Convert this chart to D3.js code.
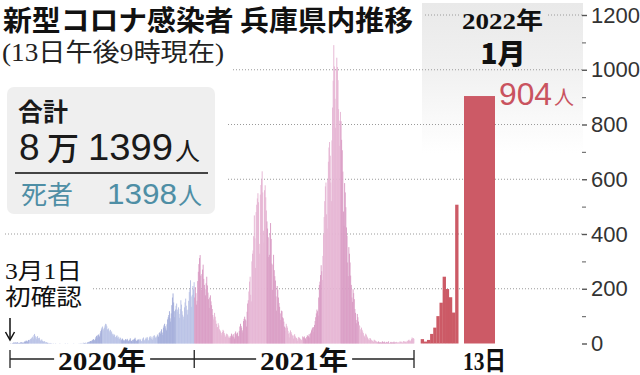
<!DOCTYPE html>
<html><head><meta charset="utf-8">
<script src="https://cdn.jsdelivr.net/npm/d3@7"></script>
<style>
html,body{margin:0;padding:0;background:#fff;}
svg{display:block;}
</style></head><body>
<svg id="chart" width="640" height="375"></svg>
<script>
// ---------- DATA ----------
// Daily new cases, Hyogo. 2020: March..December, one array per month
const cases2020 = [
  [1,0,0,2,1,3,4,2,4,3,2,5,4,2,1,2,3,4,5,2,3,4,2,6,8,7,11,9,6,10,13],
  [11,13,17,15,19,22,25,18,31,35,28,22,16,24,27,20,18,21,14,9,12,15,10,8,6,9,7,4,3,5],
  [2,3,1,0,1,2,0,1,0,0,1,0,0,0,1,0,0,0,0,0,0,1,0,0,0,0,0,0,0,0,1],
  [0,0,0,1,0,0,0,0,0,0,0,0,0,1,0,0,0,0,0,0,0,0,1,0,0,2,0,1,0,3],
  [1,2,1,3,0,2,4,3,6,5,8,9,7,10,12,14,16,13,11,18,24,28,22,30,33,29,25,37,45,51,58],
  [62,54,48,58,66,72,70,63,52,49,55,47,41,50,38,44,33,36,29,34,31,24,22,27,30,21,25,18,16,22,20],
  [12,15,18,14,11,9,13,16,10,14,17,12,8,10,14,19,11,9,7,13,15,12,17,21,14,10,9,12,16,13],
  [11,17,14,9,8,15,19,22,13,10,16,21,18,24,19,12,10,23,27,21,17,25,14,19,28,30,24,20,26,22,33],
  [29,24,38,41,36,45,52,40,31,58,66,72,63,55,48,70,88,96,104,118,92,80,110,140,168,183,150,118,96,124],
  [138,146,124,115,132,108,94,126,158,142,118,105,98,88,132,150,164,138,122,106,124,156,188,198,231,172,134,178,210,198,224]
];
// 2021: January..December
const cases2021 = [
  [168,206,184,142,156,228,262,290,312,323,248,196,254,270,288,236,214,198,176,220,244,212,186,162,130,168,176,154,140,126,104],
  [88,96,112,98,84,72,58,60,74,66,52,48,44,38,30,42,50,46,38,32,24,28,36,34,30,22,26,20],
  [22,28,36,30,26,34,24,18,38,44,36,30,40,28,26,46,62,72,64,58,48,40,82,90,98,88,84,62,116,146,158],
  [190,226,244,178,154,300,328,340,392,468,384,276,480,507,530,549,516,364,328,544,579,598,629,552,412,368,560,578,534,486],
  [446,420,388,316,324,402,440,382,292,196,288,324,268,246,230,172,120,210,196,168,148,134,110,86,120,118,96,92,80,62,46],
  [58,72,64,58,46,36,22,40,48,42,36,30,28,18,30,34,26,22,20,16,10,22,24,20,18,16,12,14,26,24],
  [22,26,20,18,12,24,30,28,26,34,22,36,40,48,54,58,60,42,68,82,96,110,124,118,102,168,214,226,250,286,264],
  [232,320,398,462,520,574,588,472,420,598,664,716,736,686,588,520,742,862,960,1090,1012,894,788,1002,1044,1010,962,856,722,814,846],
  [812,744,706,628,482,430,586,552,498,424,394,296,246,352,328,296,248,214,168,152,198,184,162,126,112,86,74,108,96,80],
  [68,64,52,40,58,50,44,38,30,26,20,36,32,26,22,18,14,12,20,18,14,12,10,8,6,14,12,10,8,7,5],
  [4,8,6,3,5,4,2,6,8,5,4,7,3,2,5,6,4,3,8,2,1,4,6,3,5,2,4,7,3,5],
  [2,6,4,3,5,2,4,8,6,5,7,3,4,9,6,8,5,7,4,10,8,12,14,9,11,7,16,22,18,20,17]
];
// January 2022 (days 1..13)
const jan2022Days  = [1,2,3,4,5,6,7,8,9,10,11,12,13];
const jan2022Cases = [16,7,13,35,58,100,149,244,199,169,113,507,904];

const yTicks      = [0,200,400,600,800,1000,1200];
const yMinorTicks = [100,300,500,700,900,1100];
const yearLabels  = ["2020年","2021年"];
const yearStarts  = ["2020-03-01","2021-01-01","2022-01-01"];

const titleText    = "新型コロナ感染者 兵庫県内推移";
const subtitleText = "(13日午後9時現在)";
const totalLabel   = "合計";
const totalMan     = "8";
const totalRest    = "1399";
const deathLabel   = "死者";
const deathValue   = "1398";
const firstNote    = ["3月1日","初確認"];
const panelYear    = "2022年";
const panelMonth   = "1月";
const lastLabel    = "904";
const lastDayLabel = "13日";

// ---------- SETUP ----------
const svg = d3.select("#chart");
const CJK = "'Noto Sans CJK JP', sans-serif";
const SERIF = "'Liberation Serif', 'Noto Sans CJK JP', serif";
const SANS = "'Liberation Sans', Arial, sans-serif";

const x = d3.scaleTime()
  .domain([new Date(2020,2,1), new Date(2022,0,1)])
  .range([10, 414]);
const y = d3.scaleLinear().domain([0,1200]).range([343.5, 15]);

const xJan = d3.scaleBand().domain(jan2022Days.slice(0,12)).range([420.7, 458.3]).padding(0);
const xJanLast = d3.scaleBand().domain([13]).range([464, 495]).padding(0);

// gradient for 2022 panel
const defs = svg.append("defs");
const grad = defs.append("linearGradient").attr("id","pg").attr("x1",0).attr("y1",0).attr("x2",0).attr("y2",1);
grad.append("stop").attr("offset","0%").attr("stop-color","#e9e9e9");
grad.append("stop").attr("offset","45%").attr("stop-color","#f1f1f1");
grad.append("stop").attr("offset","100%").attr("stop-color","#ffffff");
svg.append("rect").attr("x",422).attr("y",3).attr("width",161).attr("height",150).attr("fill","url(#pg)");

// gridlines (dotted), with spans that avoid text areas
const gridSpans = {
  1200: [[425,459],[548,582]],
  1000: [[233,582]],
  800:  [[228,582]],
  600:  [[228,582]],
  400:  [[5,582]],
  200:  [[93,582]]
};
yTicks.filter(t => t > 0).forEach(t => {
  gridSpans[t].forEach(([a,b]) => {
    svg.append("line")
      .attr("x1",a).attr("x2",b).attr("y1",y(t)).attr("y2",y(t))
      .attr("stroke","#9a9a9a").attr("stroke-width",1)
      .attr("stroke-dasharray","1,2");
  });
});

// daily bars
const daily = [];
cases2020.forEach((arr,mi) => arr.forEach((v,di) => daily.push({date:new Date(2020,2+mi,di+1), v, month:3+mi, year:2020})));
cases2021.forEach((arr,mi) => arr.forEach((v,di) => daily.push({date:new Date(2021,mi,di+1), v, month:1+mi, year:2021})));

function barColor(d){
  const odd = d.month % 2 === 1;
  if (d.year === 2020) return odd ? "#a4aedb" : "#bac3e6";
  return odd ? "#da9dc5" : "#e6b6d4";
}
svg.append("g").selectAll("rect").data(daily).join("rect")
  .attr("x", d => x(d.date))
  .attr("width", d => x(d3.timeDay.offset(d.date,1)) - x(d.date) + 0.35)
  .attr("y", d => y(d.v))
  .attr("height", d => y(0) - y(d.v))
  .attr("fill", barColor);

// January 2022 bars
const janData = jan2022Days.map((d,i) => ({day:d, v:jan2022Cases[i]}));
svg.append("g").selectAll("rect").data(janData).join("rect")
  .attr("x", d => d.day < 13 ? xJan(d.day) : xJanLast(d.day))
  .attr("width", d => d.day < 13 ? xJan.bandwidth() + 0.2 : xJanLast.bandwidth())
  .attr("y", d => y(d.v))
  .attr("height", d => y(0) - y(d.v))
  .attr("fill", "#cc5a66");

// right axis
const axis = d3.axisRight(y).tickValues(yTicks).tickSize(5).tickPadding(5).tickFormat(d3.format("d"));
const ag = svg.append("g").attr("transform","translate(582,0)").call(axis);
ag.select(".domain").remove();
ag.selectAll(".tick line").attr("stroke","#555").attr("stroke-width",1.4);
ag.selectAll(".tick text").attr("font-family",SANS).attr("font-size",22).attr("fill","#333").attr("x",9);
const ag2 = svg.append("g").attr("transform","translate(582,0)")
  .call(d3.axisRight(y).tickValues(yMinorTicks).tickSize(4).tickFormat(""));
ag2.select(".domain").remove();
ag2.selectAll(".tick line").attr("stroke","#777").attr("stroke-width",1.2);

// title & subtitle
svg.append("text").attr("x",3).attr("y",31).text(titleText)
  .attr("font-family",CJK).attr("font-weight",700).attr("font-size",28).attr("fill","#111")
  .attr("textLength",410).attr("lengthAdjust","spacingAndGlyphs");
svg.append("text").attr("x",2).attr("y",61).text(subtitleText)
  .attr("font-family",SERIF).attr("font-size",25).attr("fill","#222")
  .attr("textLength",222).attr("lengthAdjust","spacingAndGlyphs");

// summary box
svg.append("rect").attr("x",7).attr("y",87).attr("width",208).attr("height",127).attr("rx",7).attr("fill","#efefef");
svg.append("text").attr("x",18).attr("y",121).text(totalLabel)
  .attr("font-family",CJK).attr("font-weight",700).attr("font-size",25).attr("fill","#1a1a1a");
svg.append("text").attr("x",19).attr("y",160).text(totalMan)
  .attr("font-family",SANS).attr("font-size",37).attr("fill","#1a1a1a");
svg.append("text").attr("x",47).attr("y",160).text("万")
  .attr("font-family",CJK).attr("font-weight",500).attr("font-size",32).attr("fill","#1a1a1a");
svg.append("text").attr("x",88).attr("y",160).text(totalRest)
  .attr("font-family",SANS).attr("font-size",37).attr("fill","#1a1a1a")
  .attr("textLength",85).attr("lengthAdjust","spacingAndGlyphs");
svg.append("text").attr("x",175).attr("y",160).text("人")
  .attr("font-family",CJK).attr("font-size",25).attr("fill","#1a1a1a");
svg.append("line").attr("x1",15).attr("x2",208).attr("y1",173).attr("y2",173).attr("stroke","#444").attr("stroke-width",2);
svg.append("text").attr("x",21).attr("y",204).text(deathLabel)
  .attr("font-family",CJK).attr("font-size",26).attr("fill","#4e8ea5");
svg.append("text").attr("x",107).attr("y",204).text(deathValue)
  .attr("font-family",SANS).attr("font-size",30).attr("fill","#4e8ea5")
  .attr("textLength",70).attr("lengthAdjust","spacingAndGlyphs");
svg.append("text").attr("x",178).attr("y",204).text("人")
  .attr("font-family",CJK).attr("font-size",24).attr("fill","#4e8ea5");

// first-case note
firstNote.forEach((t,i) => {
  svg.append("text").attr("x",5).attr("y",279 + i*26).text(t)
    .attr("font-family",SERIF).attr("font-size",23).attr("fill","#111")
    .attr("textLength",77).attr("lengthAdjust","spacingAndGlyphs");
});
const x0 = x(new Date(2020,2,1));
svg.append("line").attr("x1",x0).attr("x2",x0)
  .attr("y1",318).attr("y2",339).attr("stroke","#111").attr("stroke-width",1.5);
svg.append("path").attr("d",`M${x0-4.5},332 L${x0},340 L${x0+4.5},332`)
  .attr("fill","none").attr("stroke","#111").attr("stroke-width",1.5);

// bottom year brackets
const ys = yearStarts.map(s => x(d3.timeParse("%Y-%m-%d")(s)));
const by = 359;
ys.forEach(px => {
  svg.append("line").attr("x1",px).attr("x2",px).attr("y1",350).attr("y2",368).attr("stroke","#222").attr("stroke-width",1.3);
});
yearLabels.forEach((lab,i) => {
  const a = ys[i], b = ys[i+1], c = (a+b)/2;
  svg.append("line").attr("x1",a).attr("x2",c-48).attr("y1",by).attr("y2",by).attr("stroke","#222").attr("stroke-width",1.3);
  svg.append("line").attr("x1",c+48).attr("x2",b).attr("y1",by).attr("y2",by).attr("stroke","#222").attr("stroke-width",1.3);
  svg.append("text").attr("x",c-44).attr("y",370).text(lab)
    .attr("font-family",SERIF).attr("font-weight",700).attr("font-size",26).attr("fill","#111")
    .attr("textLength",88).attr("lengthAdjust","spacingAndGlyphs");
});
svg.append("text").attr("x",463).attr("y",370).text(lastDayLabel)
  .attr("font-family",SERIF).attr("font-weight",700).attr("font-size",26).attr("fill","#111")
  .attr("textLength",43).attr("lengthAdjust","spacingAndGlyphs");

// 2022 panel header
svg.append("text").attr("x",462).attr("y",29).text(panelYear)
  .attr("font-family",SERIF).attr("font-weight",700).attr("font-size",24).attr("fill","#111")
  .attr("textLength",81).attr("lengthAdjust","spacingAndGlyphs");
svg.append("text").attr("x",503).attr("y",64).attr("text-anchor","middle").text(panelMonth)
  .attr("font-family",CJK).attr("font-weight",900).attr("font-size",28).attr("fill","#111");

// last value label
svg.append("text").attr("x",499).attr("y",105).text(lastLabel)
  .attr("font-family",SANS).attr("font-size",32).attr("fill","#c9535f")
  .attr("textLength",53).attr("lengthAdjust","spacingAndGlyphs");
svg.append("text").attr("x",554).attr("y",105).text("人")
  .attr("font-family",CJK).attr("font-size",20).attr("fill","#c9535f");
</script>
</body></html>
